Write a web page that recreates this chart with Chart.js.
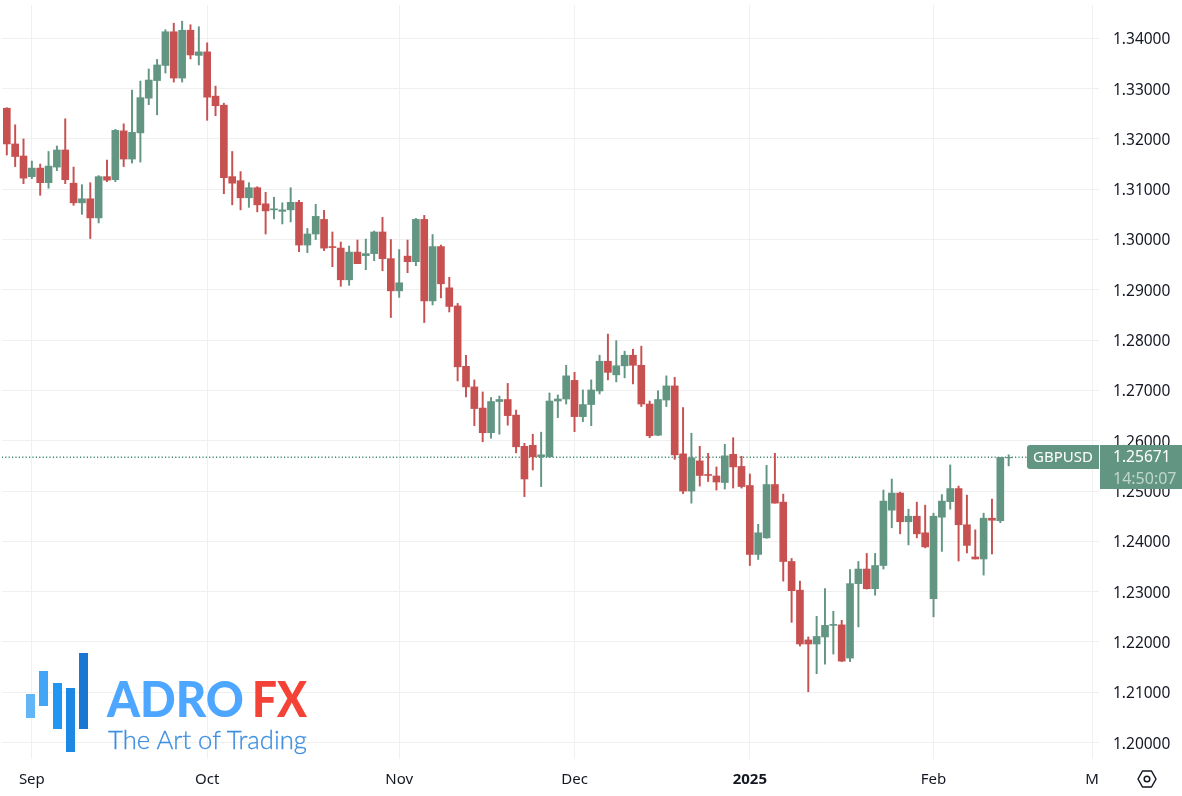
<!DOCTYPE html>
<html>
<head>
<meta charset="utf-8">
<title>GBPUSD</title>
<script src="https://cdn.jsdelivr.net/npm/chart.js@4/dist/chart.umd.min.js"></script>
<style>
html, body { margin: 0; padding: 0; background: #fff; }
#wrap { position: relative; width: 1182px; height: 796px; overflow: hidden; }
#logo { position: absolute; left: 0; top: 0; pointer-events: none; }
#gear { position: absolute; left: 1136px; top: 768px; }
</style>
</head>
<body>
<div id="wrap">
    <canvas id="chart" width="1182" height="796"></canvas>
    <svg id="logo" width="330" height="796">
        <rect x="26" y="694" width="9" height="24" fill="#64b5f6"/>
        <rect x="39" y="671" width="9" height="35" fill="#42a5f5"/>
        <rect x="53" y="683" width="9" height="46" fill="#2196f3"/>
        <rect x="66" y="688" width="9" height="64" fill="#1e88e5"/>
        <rect x="79" y="653" width="9" height="76" fill="#1976d2"/>
        <text x="107" y="717" font-family="Lato" font-weight="900" font-size="50" fill="#4da6ff" textLength="137" lengthAdjust="spacingAndGlyphs">ADRO</text>
        <text x="252" y="717" font-family="Lato" font-weight="900" font-size="50" fill="#f44336" textLength="55" lengthAdjust="spacingAndGlyphs">FX</text>
        <text x="108" y="749" font-family="Lato" font-weight="300" font-size="26" fill="#3d8fe0" stroke="#3d8fe0" stroke-width="0.3" textLength="199" lengthAdjust="spacingAndGlyphs">The Art of Trading</text>
    </svg>
    <svg id="gear" width="22" height="22" viewBox="0 0 22 22">
        <path d="M6.5 3 L15.5 3 L20 11 L15.5 19 L6.5 19 L2 11 Z" fill="none" stroke="#131722" stroke-width="1.5" stroke-linejoin="round"/>
        <circle cx="11" cy="11" r="2.8" fill="none" stroke="#131722" stroke-width="1.5"/>
    </svg>
</div>
<script>
// candles (weekdays only, one entry per session)
var opens = [
    1.3261, 1.3190, 1.3166, 1.3125, 1.3142, 1.3113, 1.3144, 1.3178, 1.3112, 1.3073,
    1.3081, 1.3043, 1.3125, 1.3119, 1.3216, 1.3160, 1.3212, 1.3281, 1.3316, 1.3346,
    1.3413, 1.3321, 1.3416, 1.3366, 1.3373, 1.3285, 1.3267, 1.3125, 1.3117, 1.3083,
    1.3103, 1.3071, 1.3059, 1.3056, 1.3059, 1.3074, 1.2989, 1.3011, 1.3040, 1.2986,
    1.2983, 1.2920, 1.2975, 1.2968, 1.2972, 1.3015, 1.2962, 1.2898, 1.2967, 1.2956,
    1.3040, 1.2878, 1.2986, 1.2904, 1.2868, 1.2748, 1.2707, 1.2665, 1.2616, 1.2678,
    1.2682, 1.2651, 1.2589, 1.2591, 1.2568, 1.2568, 1.2679, 1.2683, 1.2720, 1.2648,
    1.2672, 1.2699, 1.2758, 1.2731, 1.2749, 1.2770, 1.2750, 1.2673, 1.2611, 1.2681,
    1.2709, 1.2574, 1.2500, 1.2560, 1.2533, 1.2530, 1.2517, 1.2573, 1.2549, 1.2511,
    1.2374, 1.2407, 1.2513, 1.2478, 1.2360, 1.2303, 1.2204, 1.2196, 1.2210, 1.2233,
    1.2234, 1.2168, 1.2316, 1.2345, 1.2306, 1.2352, 1.2462, 1.2496, 1.2439, 1.2450,
    1.2417, 1.2286, 1.2448, 1.2479, 1.2505, 1.2433, 1.2369, 1.2365, 1.2446, 1.2441,
    1.2566
];
var highs = [
    1.3262, 1.3228, 1.3200, 1.3156, 1.3150, 1.3175, 1.3186, 1.3240, 1.3144, 1.3109,
    1.3113, 1.3127, 1.3158, 1.3219, 1.3230, 1.3297, 1.3315, 1.3339, 1.3358, 1.3417,
    1.3430, 1.3434, 1.3427, 1.3423, 1.3391, 1.3305, 1.3271, 1.3175, 1.3135, 1.3113,
    1.3105, 1.3094, 1.3084, 1.3073, 1.3103, 1.3078, 1.3022, 1.3070, 1.3058, 1.3015,
    1.2995, 1.2987, 1.2999, 1.3001, 1.3017, 1.3044, 1.3000, 1.2980, 1.2999, 1.3042,
    1.3048, 1.3010, 1.2989, 1.2925, 1.2873, 1.2770, 1.2721, 1.2697, 1.2686, 1.2689,
    1.2714, 1.2661, 1.2595, 1.2613, 1.2617, 1.2695, 1.2691, 1.2750, 1.2736, 1.2701,
    1.2721, 1.2770, 1.2812, 1.2799, 1.2778, 1.2782, 1.2788, 1.2679, 1.2699, 1.2729,
    1.2726, 1.2666, 1.2615, 1.2589, 1.2575, 1.2548, 1.2593, 1.2606, 1.2569, 1.2534,
    1.2434, 1.2551, 1.2575, 1.2494, 1.2366, 1.2321, 1.2210, 1.2251, 1.2306, 1.2261,
    1.2243, 1.2344, 1.2360, 1.2376, 1.2376, 1.2502, 1.2524, 1.2498, 1.2464, 1.2478,
    1.2472, 1.2456, 1.2493, 1.2552, 1.2510, 1.2492, 1.2423, 1.2456, 1.2484, 1.2567,
    1.2572
];
var lows = [
    1.3168, 1.3145, 1.3111, 1.3121, 1.3088, 1.3102, 1.3137, 1.3111, 1.3068, 1.3050,
    1.3002, 1.3033, 1.3115, 1.3115, 1.3145, 1.3152, 1.3154, 1.3268, 1.3248, 1.3331,
    1.3313, 1.3313, 1.3359, 1.3347, 1.3237, 1.3246, 1.3091, 1.3069, 1.3059, 1.3064,
    1.3055, 1.3011, 1.3041, 1.3031, 1.3035, 1.2976, 1.2974, 1.3000, 1.2978, 1.2946,
    1.2907, 1.2909, 1.2952, 1.2940, 1.2958, 1.2938, 1.2845, 1.2885, 1.2934, 1.2948,
    1.2835, 1.2870, 1.2884, 1.2856, 1.2719, 1.2687, 1.2630, 1.2598, 1.2605, 1.2613,
    1.2631, 1.2576, 1.2489, 1.2542, 1.2509, 1.2567, 1.2646, 1.2673, 1.2618, 1.2638,
    1.2630, 1.2693, 1.2721, 1.2717, 1.2725, 1.2713, 1.2668, 1.2606, 1.2610, 1.2668,
    1.2563, 1.2495, 1.2476, 1.2510, 1.2519, 1.2502, 1.2504, 1.2506, 1.2506, 1.2352,
    1.2364, 1.2406, 1.2476, 1.2321, 1.2239, 1.2192, 1.2101, 1.2137, 1.2156, 1.2176,
    1.2161, 1.2161, 1.2230, 1.2305, 1.2293, 1.2345, 1.2427, 1.2415, 1.2393, 1.2407,
    1.2387, 1.2250, 1.2380, 1.2464, 1.2361, 1.2377, 1.2365, 1.2333, 1.2375, 1.2437,
    1.2550
];
var closes = [
    1.3190, 1.3165, 1.3122, 1.3142, 1.3113, 1.3146, 1.3178, 1.3119, 1.3073, 1.3081,
    1.3043, 1.3125, 1.3118, 1.3217, 1.3160, 1.3213, 1.3282, 1.3317, 1.3347, 1.3413,
    1.3321, 1.3416, 1.3367, 1.3373, 1.3283, 1.3266, 1.3123, 1.3112, 1.3083, 1.3103,
    1.3069, 1.3057, 1.3061, 1.3059, 1.3074, 1.2989, 1.3011, 1.3046, 1.2983, 1.2984,
    1.2920, 1.2975, 1.2952, 1.2972, 1.3015, 1.2962, 1.2898, 1.2914, 1.2956, 1.3040,
    1.2878, 1.2986, 1.2912, 1.2867, 1.2747, 1.2707, 1.2664, 1.2616, 1.2678, 1.2682,
    1.2650, 1.2588, 1.2524, 1.2568, 1.2572, 1.2679, 1.2683, 1.2729, 1.2648, 1.2672,
    1.2701, 1.2758, 1.2736, 1.2749, 1.2770, 1.2750, 1.2673, 1.2610, 1.2682, 1.2709,
    1.2572, 1.2500, 1.2566, 1.2531, 1.2531, 1.2518, 1.2570, 1.2548, 1.2509, 1.2374,
    1.2417, 1.2513, 1.2476, 1.2360, 1.2302, 1.2196, 1.2196, 1.2211, 1.2233, 1.2235,
    1.2162, 1.2316, 1.2345, 1.2306, 1.2352, 1.2480, 1.2496, 1.2439, 1.2450, 1.2415,
    1.2389, 1.2450, 1.2480, 1.2505, 1.2433, 1.2392, 1.2365, 1.2446, 1.2442, 1.2567,
    1.25671
];

var priceTicks = [1.20, 1.21, 1.22, 1.23, 1.24, 1.25, 1.26, 1.27, 1.28, 1.29, 1.30, 1.31, 1.32, 1.33, 1.34];
var monthTicks = [3, 24, 47, 68, 89, 111, 130];     // session index of each month start
var monthLabels = ["Sep", "Oct", "Nov", "Dec", "2025", "Feb", "M"];

var symbol = "GBPUSD";
var lastPrice = 1.25671;
var countdown = "14:50:07";

var GREEN = "#629683";
var RED = "#c75151";
var FONT = "'Noto Sans', sans-serif";
var TEXT = "#131722";

var sessions = opens.map(function (o, i) { return i; });
var candleColors = opens.map(function (o, i) { return closes[i] >= o ? GREEN : RED; });

// price tag and symbol tag on the right, same as the trading widget
var tagsPlugin = {
    id: "tags",
    afterDraw: function (chart) {
        var ctx = chart.ctx;
        var y = Math.round(chart.scales.y.getPixelForValue(lastPrice));
        ctx.save();
        ctx.fillStyle = GREEN;
        ctx.beginPath();
        ctx.roundRect(1027, y - 12, 72, 24, [3, 0, 0, 3]);
        ctx.fill();
        ctx.fillRect(1100, y - 12, 82, 44);
        ctx.textBaseline = "middle";
        ctx.font = "15px " + FONT;
        ctx.fillStyle = "#fff";
        ctx.fillText(symbol, 1033, y + 1);
        ctx.font = "15.6px " + FONT;
        ctx.fillText(lastPrice.toFixed(5), 1113, y + 1);
        ctx.font = "16px " + FONT;
        ctx.fillStyle = "rgba(255,255,255,0.6)";
        ctx.fillText(countdown, 1113, y + 22);
        ctx.restore();
    }
};

new Chart(document.getElementById("chart"), {
    type: "bar",
    data: {
        datasets: [
            {
                type: "line",
                data: [{ x: -0.6, y: lastPrice }, { x: 122.2, y: lastPrice }],
                borderColor: "#3f8a70",
                borderWidth: 1.5,
                borderDash: [1.2, 2.2],
                pointRadius: 0,
                order: 3
            },
            {
                // wicks
                data: sessions.map(function (i) { return { x: i, y: [lows[i], highs[i]] }; }),
                backgroundColor: candleColors,
                barThickness: 1.3,
                grouped: false,
                order: 2
            },
            {
                // bodies
                data: sessions.map(function (i) { return { x: i, y: [opens[i], closes[i]] }; }),
                backgroundColor: candleColors,
                barThickness: 7,
                grouped: false,
                order: 1
            }
        ]
    },
    options: {
        responsive: false,
        animation: false,
        events: [],
        layout: { padding: { top: 5, left: 2, right: 0, bottom: 0 } },
        plugins: { legend: { display: false }, tooltip: { enabled: false } },
        scales: {
            x: {
                type: "linear",
                offset: false,
                min: -0.575,
                max: 130.82,
                afterBuildTicks: function (scale) {
                    scale.ticks = monthTicks.map(function (v) { return { value: v }; });
                },
                afterFit: function (scale) {
                    scale.height = 37;
                    scale.paddingLeft = 0;
                    scale.paddingRight = 0;
                },
                grid: { color: "#f0f0f1", offset: false, drawTicks: false },
                border: { display: false },
                ticks: {
                    autoSkip: false,
                    maxRotation: 0,
                    padding: 12,
                    color: TEXT,
                    font: function (c) {
                        return { family: FONT, size: 15, weight: c.tick && c.tick.value === 89 ? "bold" : "normal" };
                    },
                    callback: function (v) { return monthLabels[monthTicks.indexOf(v)]; }
                }
            },
            y: {
                type: "linear",
                position: "right",
                min: 1.19674,
                max: 1.34662,
                afterBuildTicks: function (scale) {
                    scale.ticks = priceTicks.map(function (v) { return { value: v }; });
                },
                afterFit: function (scale) {
                    scale.width = 83;
                    scale.paddingTop = 0;
                    scale.paddingBottom = 0;
                },
                grid: { color: "#f0f0f1", drawTicks: false },
                border: { display: false },
                ticks: {
                    autoSkip: false,
                    padding: 14,
                    labelOffset: 1.5,
                    color: TEXT,
                    font: { family: FONT, size: 15.5 },
                    callback: function (v) { return v.toFixed(5); }
                }
            }
        }
    },
    plugins: [tagsPlugin]
});
</script>
</body>
</html>
